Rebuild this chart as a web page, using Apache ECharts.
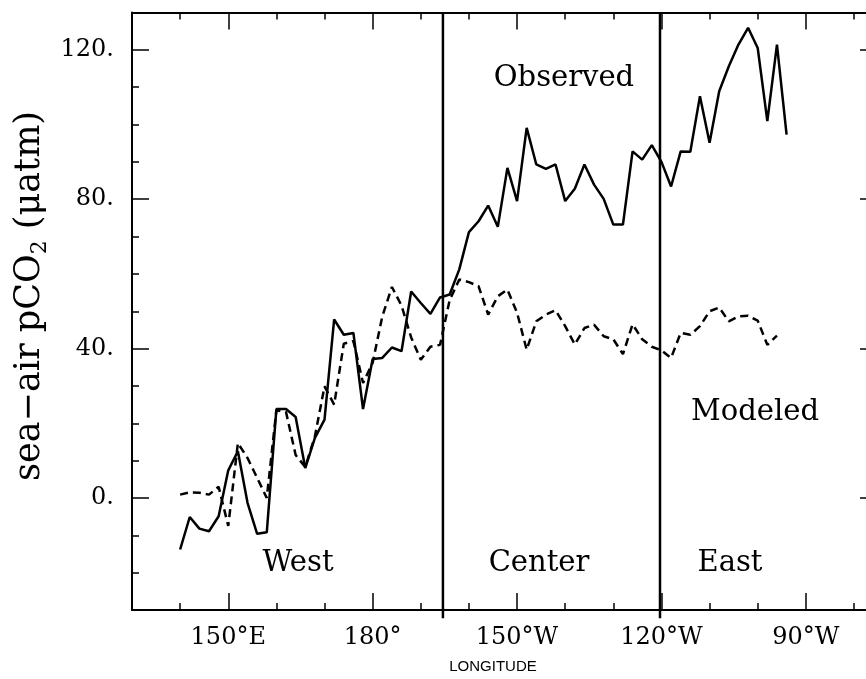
<!DOCTYPE html>
<html>
<head>
<meta charset="utf-8">
<script src="https://cdn.jsdelivr.net/npm/echarts@6/dist/echarts.min.js"></script>
<style>
html,body{margin:0;padding:0;background:#fff;}
#chart{width:866px;height:679px;}
</style>
</head>
<body>
<div id="chart"></div>
<script>
// ---- data ----
const longitude = [140,142,144,146,148,150,152,154,156,158,160,162,164,166,168,170,172,174,176,178,180,182,184,186,188,190,192,194,196,198,200,202,204,206,208,210,212,214,216,218,220,222,224,226,228,230,232,234,236,238,240,242,244,246,248,250,252,254,256,258,260,262,264,266];
const observed = [-13.8,-5.1,-8.2,-8.9,-4.9,7.4,12.5,-1.3,-9.6,-9.2,23.8,23.8,21.7,8.0,16.1,21.0,47.8,43.7,44.2,23.8,37.2,37.5,40.3,39.3,55.3,52.2,49.3,53.7,54.5,61.2,71.2,74.1,78.3,72.6,88.4,79.5,99.1,89.3,88.1,89.3,79.5,82.8,89.3,83.9,80.1,73.2,73.2,92.8,90.6,94.5,90.0,83.4,92.8,92.7,107.6,95.1,108.9,115.6,121.4,125.9,120.5,100.9,121.4,97.3];
const modeled = [0.9,1.5,1.4,0.9,3.0,-7.5,14.7,10.7,5.4,0.0,23.5,23.0,11.5,8.3,16.5,29.9,25.0,41.3,42.0,30.8,36.2,48.6,56.5,51.5,43.0,37.0,40.5,41.0,53.0,58.5,57.8,56.7,49.1,54.0,55.8,49.6,39.7,47.3,49.1,50.3,46.0,41.1,45.5,46.4,43.3,42.5,38.5,46.5,42.5,40.5,39.5,37.5,44.2,43.7,46.0,50.0,51.0,47.3,48.6,48.8,47.5,41.0,43.5];
const regionBoundaries = [194.6, 239.7];
const xMajorTicks = [150,180,210,240,270];
const xMajorLabels = ['150°E','180°','150°W','120°W','90°W'];
const xMinorTicks = [140,160,170,190,200,220,230,250,260,280];
const yMajorTicks = [0,40,80,120];
const yMajorLabels = ['0.','40.','80.','120.'];
const yMinorTicks = [-20,-10,10,20,30,50,60,70,90,100,110];
const xRange = [130, 282.5];   // visible part of the longitude axis (frame continues past the edge)
const yRange = [-30, 130];

// ---- chart ----
const SERIF = '"DejaVu Serif", serif';
const chart = echarts.init(document.getElementById('chart'), null, {renderer:'canvas'});

function xAxisDef(pos, ticks, len, showLine, showLabel) {
  return {
    type:'value', min:xRange[0], max:xRange[1], position:pos,
    axisLine:{show:showLine, onZero:false, lineStyle:{color:'#000', width:2}},
    axisTick:{show:true, inside:true, length:len, customValues:ticks, lineStyle:{color:'#000', width:1.5}},
    axisLabel:{show:showLabel, customValues:xMajorTicks, margin:16,
      formatter:v => xMajorLabels[xMajorTicks.indexOf(v)] || '',
      fontFamily:SERIF, fontSize:24, color:'#000'},
    splitLine:{show:false}
  };
}
function yAxisDef(pos, ticks, len, showLine, showLabel, offset) {
  return {
    type:'value', min:yRange[0], max:yRange[1], position:pos, offset:offset||0,
    axisLine:{show:showLine, onZero:false, lineStyle:{color:'#000', width:2}},
    axisTick:{show:true, inside:true, length:len, customValues:ticks, lineStyle:{color:'#000', width:1.5}},
    axisLabel:{show:showLabel, customValues:yMajorTicks, margin:18,
      formatter:v => yMajorLabels[yMajorTicks.indexOf(v)] || '',
      fontFamily:SERIF, fontSize:24, color:'#000'},
    splitLine:{show:false}
  };
}

const obsData = longitude.map((x,i) => [x, observed[i]]);
const modData = longitude.slice(0, modeled.length).map((x,i) => [x, modeled[i]]);

const boundarySeries = regionBoundaries.map(b => ({
  type:'line', xAxisIndex:0, yAxisIndex:0, symbol:'none', clip:false, silent:true,
  data:[[b, yRange[1]], [b, yRange[0] - 2.2]],
  lineStyle:{color:'#000', width:2.5}
}));

function label(text, x, y, size, family) {
  return {type:'text', x:x, y:y, style:{text:text, fill:'#000', font: size + 'px ' + (family||SERIF), align:'center', verticalAlign:'middle'}};
}

chart.setOption({
  animation:false,
  backgroundColor:'#fff',
  grid:{left:132, right:0, top:12.5, bottom:69, containLabel:false},
  xAxis:[
    xAxisDef('bottom', xMajorTicks, 17, true, true),
    xAxisDef('bottom', xMinorTicks, 7, false, false),
    xAxisDef('top', xMajorTicks, 17, true, false),
    xAxisDef('top', xMinorTicks, 7, false, false)
  ],
  yAxis:[
    yAxisDef('left', yMajorTicks, 17, true, true),
    yAxisDef('left', yMinorTicks, 7, false, false),
    yAxisDef('right', yMajorTicks, 17, true, false, 11),
    yAxisDef('right', yMinorTicks, 7, false, false, 11)
  ],
  series:[
    {type:'line', name:'Observed', xAxisIndex:0, yAxisIndex:0, data:obsData, symbol:'none',
     lineStyle:{color:'#000', width:2.5}},
    {type:'line', name:'Modeled', xAxisIndex:0, yAxisIndex:0, data:modData, symbol:'none',
     lineStyle:{color:'#000', width:2.5, type:[8,5]}},
    ...boundarySeries
  ],
  graphic:[
    label('Observed', 564, 78, 29),
    label('Modeled', 755, 412, 29),
    label('West', 298, 563, 29),
    label('Center', 539, 563, 29),
    label('East', 730, 563, 29),
    label('LONGITUDE', 493, 667, 15, '"Liberation Sans", sans-serif'),
    {type:'text', x:30, y:296, rotation:Math.PI/2,
     style:{text:'{a|sea−air pCO}{b|2}{a| (μatm)}', fill:'#000', align:'center', verticalAlign:'middle',
       rich:{a:{fontFamily:SERIF, fontSize:35, fill:'#000', lineHeight:42, verticalAlign:'middle'},
             b:{fontFamily:SERIF, fontSize:22, fill:'#000', lineHeight:42, verticalAlign:'bottom'}}}}
  ]
});
</script>
</body>
</html>
